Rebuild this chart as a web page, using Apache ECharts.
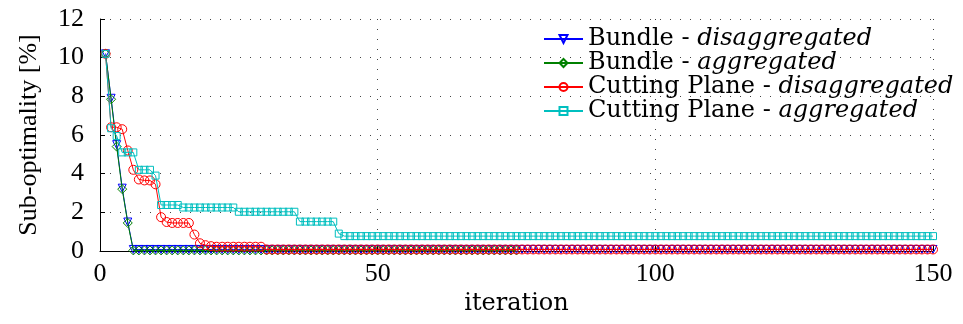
<!DOCTYPE html>
<html><head><meta charset="utf-8">
<script src="https://cdn.jsdelivr.net/npm/echarts@6/dist/echarts.min.js"></script>
<style>html,body{margin:0;padding:0;background:#fff}#c{width:963px;height:324px}</style>
</head><body><div id="c"></div>
<script>
const seriesNames = ['Bundle - disaggregated','Bundle - aggregated','Cutting Plane - disaggregated','Cutting Plane - aggregated'];
const xTicks = [0, 50, 100, 150];
const yTicks = [0, 2, 4, 6, 8, 10, 12];
const bundleDisagg = [10.2,7.9,5.5,3.25,1.5,
0.08,0.08,0.08,0.08,0.08,0.08,0.08,0.08,0.08,0.08,0.08,0.08,0.08,0.08,0.08,0.08,0.08,0.08,0.08,0.08,
0.08,0.08,0.08,0.08,0.08,0.08,0.08,0.08,0.08,0.08,0.08,0.08,0.08,0.08,0.08,0.08,0.08,0.08,0.08,0.08,
0.08,0.08,0.08,0.08,0.08,0.08,0.08,0.08,0.08,0.08,0.08,0.08,0.08,0.08,0.08,0.08,0.08,0.08,0.08,0.08,
0.08,0.08,0.08,0.08,0.08,0.08,0.08,0.08,0.08,0.08,0.08,0.08,0.08,0.08,0.08,0.08,0.08,0.08,0.08,0.08,
0.08,0.08,0.08,0.08,0.08,0.08,0.08,0.08,0.08,0.08,0.08,0.08,0.08,0.08,0.08,0.08,0.08,0.08,0.08,0.08,
0.08,0.08,0.08,0.08,0.08,0.08,0.08,0.08,0.08,0.08,0.08,0.08,0.08,0.08,0.08,0.08,0.08,0.08,0.08,0.08,
0.08,0.08,0.08,0.08,0.08,0.08,0.08,0.08,0.08,0.08,0.08,0.08,0.08,0.08,0.08,0.08,0.08,0.08,0.08,0.08,
0.08,0.08,0.08,0.08,0.08];
const bundleAgg = [10.2,7.85,5.4,3.2,1.45,
0.03,0.03,0.03,0.03,0.03,0.03,0.03,0.03,0.03,0.03,0.03,0.03,0.03,0.03,0.03,0.03,0.03,0.03,0.03,0.03,
0.03,0.03,0.03,0.03,0.03,0.03,0.03,0.03,0.03,0.03,0.03,0.03,0.03,0.03,0.03,0.03,0.03,0.03,0.03,0.03,
0.03,0.03,0.03,0.03,0.03,0.03,0.03,0.03,0.03,0.03,0.03,0.03,0.03,0.03,0.03,0.03,0.03,0.03,0.03,0.03,
0.03,0.03,0.03,0.03,0.03,0.03,0.03,0.03,0.03,0.03];
const cpDisagg = [10.2,6.4,6.4,6.3,5.2,4.2,3.7,3.65,3.65,3.45,
1.75,1.5,1.45,1.45,1.45,1.45,0.85,0.4,0.3,0.25,
0.22,0.22,0.22,0.22,0.22,0.22,0.22,0.22,0.22,
0.08,0.08,0.08,0.08,0.08,0.08,0.08,0.08,0.08,0.08,0.08,0.08,0.08,0.08,0.08,0.08,0.08,0.08,0.08,0.08,
0.08,0.08,0.08,0.08,0.08,0.08,0.08,0.08,0.08,0.08,0.08,0.08,0.08,0.08,0.08,0.08,0.08,0.08,0.08,0.08,
0.08,0.08,0.08,0.08,0.08,0.08,0.08,0.08,0.08,0.08,0.08,0.08,0.08,0.08,0.08,0.08,0.08,0.08,0.08,0.08,
0.08,0.08,0.08,0.08,0.08,0.08,0.08,0.08,0.08,0.08,0.08,0.08,0.08,0.08,0.08,0.08,0.08,0.08,0.08,0.08,
0.08,0.08,0.08,0.08,0.08,0.08,0.08,0.08,0.08,0.08,0.08,0.08,0.08,0.08,0.08,0.08,0.08,0.08,0.08,0.08,
0.08,0.08,0.08,0.08,0.08,0.08,0.08,0.08,0.08,0.08,0.08,0.08,0.08,0.08,0.08,0.08,0.08,0.08,0.08,0.08,
0.08];
const cpAgg = [10.2,6.35,5.95,5.1,5.1,5.1,4.2,4.2,4.2,3.9,
2.38,2.38,2.38,2.38,
2.25,2.25,2.25,2.25,2.25,2.25,2.25,2.25,2.25,2.25,
2.03,2.03,2.03,2.03,2.03,2.03,2.03,2.03,2.03,2.03,2.03,
1.52,1.52,1.52,1.52,1.52,1.52,1.52,
0.9,
0.77,0.77,0.77,0.77,0.77,0.77,0.77,0.77,0.77,0.77,0.77,0.77,0.77,0.77,0.77,0.77,0.77,0.77,0.77,0.77,
0.77,0.77,0.77,0.77,0.77,0.77,0.77,0.77,0.77,0.77,0.77,0.77,0.77,0.77,0.77,0.77,0.77,0.77,0.77,0.77,
0.77,0.77,0.77,0.77,0.77,0.77,0.77,0.77,0.77,0.77,0.77,0.77,0.77,0.77,0.77,0.77,0.77,0.77,0.77,0.77,
0.77,0.77,0.77,0.77,0.77,0.77,0.77,0.77,0.77,0.77,0.77,0.77,0.77,0.77,0.77,0.77,0.77,0.77,0.77,0.77,
0.77,0.77,0.77,0.77,0.77,0.77,0.77,0.77,0.77,0.77,0.77,0.77,0.77,0.77,0.77,0.77,0.77,0.77,0.77,0.77,
0.77,0.77,0.77,0.77,0.77,0.77,0.77];

const FONT = 'Liberation Serif';
const WFONT = 'DejaVu Serif';
const colors = ['#0000ff', '#008000', '#ff0000', '#00bfbf'];
const symbols = ['triangle', 'diamond', 'circle', 'rect'];
const rotates = [180, 0, 0, 0];
const sizes = [8, 9, 9, 7];
const allData = [bundleDisagg, bundleAgg, cpDisagg, cpAgg];

const series = allData.map((arr, k) => ({
  name: seriesNames[k],
  type: 'line',
  data: arr.map((v, i) => [i + 1, v]),
  symbol: symbols[k],
  symbolRotate: rotates[k],
  symbolSize: sizes[k],
  showAllSymbol: true,
  lineStyle: { color: colors[k], width: 1 },
  itemStyle: { color: 'rgba(255,255,255,0)', borderColor: colors[k], borderWidth: 1 },
  emphasis: { disabled: true },
  z: 2 + k,
  animation: false
}));

const chart = echarts.init(document.getElementById('c'));
chart.setOption({
  animation: false,
  backgroundColor: '#fff',
  grid: { left: 100, right: 30, top: 19, bottom: 73, containLabel: false },
  xAxis: {
    type: 'value', min: 0, max: 150, interval: 50,
    name: 'iteration', nameLocation: 'middle', nameGap: 37,
    nameTextStyle: { fontFamily: WFONT, fontSize: 24, color: '#000' },
    axisLine: { show: true, onZero: false, lineStyle: { color: '#000', width: 1 } },
    axisTick: { show: true, inside: true, length: 5, lineStyle: { color: '#000' } },
    axisLabel: { fontFamily: FONT, fontSize: 26, color: '#000', margin: 10,
      formatter: v => xTicks.includes(v) ? String(v) : '' },
    splitLine: { show: true, lineStyle: { color: '#444', width: 1, type: [1, 9] } }
  },
  yAxis: {
    type: 'value', min: 0, max: 12, interval: 2,
    name: 'Sub-optimality [%]', nameLocation: 'middle', nameGap: 58, nameRotate: 90,
    nameTextStyle: { fontFamily: FONT, fontSize: 26, color: '#000' },
    axisLine: { show: true, lineStyle: { color: '#000', width: 1 } },
    axisTick: { show: true, inside: true, length: 5, lineStyle: { color: '#000' } },
    axisLabel: { fontFamily: FONT, fontSize: 26, color: '#000', margin: 16,
      formatter: v => yTicks.includes(v) ? String(v) : '' },
    splitLine: { show: true, lineStyle: { color: '#444', width: 1, type: [1, 9] } }
  },
  legend: {
    orient: 'vertical', left: 543, top: 27, itemGap: 0,
    itemWidth: 39, itemHeight: 10,
    padding: 0,
    data: seriesNames,
    formatter: name => {
      const p = name.split(' - ');
      return '{n|' + p[0] + ' - }{i|' + p[1] + '}';
    },
    textStyle: {
      fontFamily: WFONT, fontSize: 24, color: '#000', lineHeight: 22.7, padding: [0, 0, 0, 0],
      rich: {
        n: { fontFamily: WFONT, fontSize: 24, color: '#000', lineHeight: 22.7 },
        i: { fontFamily: WFONT, fontSize: 24, color: '#000', fontStyle: 'italic', lineHeight: 22.7 }
      }
    }
  },
  series: series
});
</script></body></html>
